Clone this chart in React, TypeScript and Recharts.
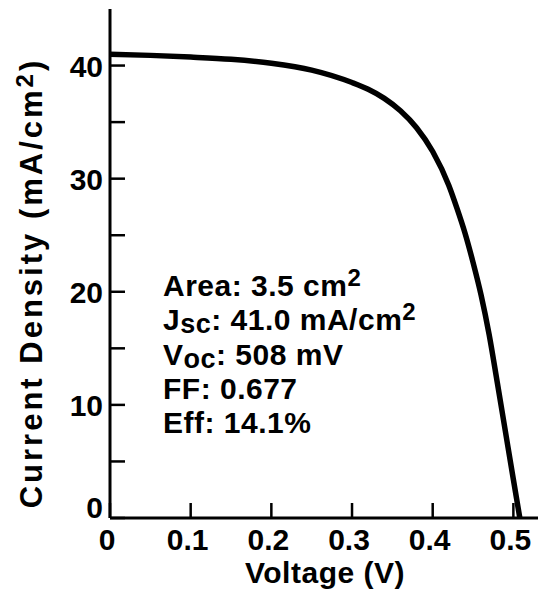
import { LineChart, Line, XAxis, YAxis } from 'recharts';

// J-V curve of the cell: voltage (V) vs current density (mA/cm2)
const voltage = [0, 0.05, 0.1, 0.15, 0.2, 0.25, 0.3, 0.32, 0.34, 0.36, 0.38, 0.4, 0.42, 0.43, 0.44, 0.45, 0.46, 0.47, 0.48, 0.49, 0.5, 0.508];
const currentDensity = [41.0, 40.9, 40.75, 40.55, 40.2, 39.6, 38.5, 37.9, 37.1, 36.0, 34.5, 32.4, 29.4, 27.4, 25.2, 22.6, 19.7, 16.2, 12.0, 7.7, 3.4, 0];

const xTicks = [0, 0.1, 0.2, 0.3, 0.4, 0.5];
const yTicks = [0, 5, 10, 15, 20, 25, 30, 35, 40];

const data = voltage.map((v, i) => ({ v, j: currentDensity[i] }));

const FONT = '"Liberation Sans", Arial, Helvetica, sans-serif';
const TICK_LEN = 15;

const BottomTick = ({ x, y, payload }: any) => (
  <g>
    <line x1={x} y1={y} x2={x} y2={y - TICK_LEN} stroke="#000" strokeWidth={2.5} />
    <text x={x - 3} y={y + 32} textAnchor="middle" fontFamily={FONT} fontWeight="bold" fontSize={30} fill="#000">
      {payload.value === 0 ? '0' : payload.value.toFixed(1)}
    </text>
  </g>
);

const TopTick = ({ x, y }: any) => (
  <line x1={x} y1={y} x2={x} y2={y + TICK_LEN} stroke="#000" strokeWidth={2.5} />
);

const LeftTick = ({ x, y, payload }: any) => (
  <g>
    <line x1={x} y1={y} x2={x + TICK_LEN} y2={y} stroke="#000" strokeWidth={2.5} />
    {payload.value % 10 === 0 && (
      <text x={x - 7} y={payload.value === 0 ? y : y + 11} textAnchor="end" fontFamily={FONT} fontWeight="bold" fontSize={30} fill="#000">
        {payload.value}
      </text>
    )}
  </g>
);

const RightTick = ({ x, y }: any) => (
  <line x1={x} y1={y} x2={x - TICK_LEN} y2={y} stroke="#000" strokeWidth={2.5} />
);

const stats = [
  { label: 'Area: 3.5 cm', sup: '2' },
  { label: 'J', sub: 'sc', rest: ': 41.0 mA/cm', sup: '2' },
  { label: 'V', sub: 'oc', rest: ': 508 mV' },
  { label: 'FF: 0.677' },
  { label: 'Eff: 14.1%' },
];

export default function App() {
  return (
    <div style={{ position: 'absolute', left: 0, top: 0, width: 538, height: 596, overflow: 'hidden', background: '#fff' }}>
      <LineChart width={545} height={596} data={data} margin={{ top: 9, right: 5, bottom: 0, left: 0 }}>
        <XAxis
          dataKey="v"
          type="number"
          domain={[0, 0.533]}
          ticks={xTicks}
          height={78}
          tickSize={0}
          tickMargin={0}
          tick={<BottomTick />}
          axisLine={{ stroke: '#000', strokeWidth: 3 }}
          tickLine={false}
        />
        <XAxis
          xAxisId="top"
          orientation="top"
          dataKey="v"
          type="number"
          domain={[0, 0.533]}
          ticks={xTicks}
          height={0}
          tickSize={0}
          tickMargin={0}
          tick={<TopTick />}
          axisLine={{ stroke: '#000', strokeWidth: 3 }}
          tickLine={false}
        />
        <YAxis
          type="number"
          domain={[0, 45]}
          ticks={yTicks}
          width={110}
          tickSize={0}
          tickMargin={0}
          tick={<LeftTick />}
          axisLine={{ stroke: '#000', strokeWidth: 3 }}
          tickLine={false}
        />
        <YAxis
          yAxisId="right"
          orientation="right"
          type="number"
          domain={[0, 45]}
          ticks={yTicks}
          width={0}
          tickSize={0}
          tickMargin={0}
          tick={<RightTick />}
          axisLine={{ stroke: '#000', strokeWidth: 3 }}
          tickLine={false}
        />
        <Line
          type="monotone"
          dataKey="j"
          stroke="#000"
          strokeWidth={5.5}
          dot={false}
          isAnimationActive={false}
        />

        <text x={325} y={583} textAnchor="middle" fontFamily={FONT} fontWeight="bold" fontSize={30} letterSpacing={0.5} fill="#000">
          Voltage (V)
        </text>
        <text
          x={42}
          y={283}
          transform="rotate(-90 42 283)"
          textAnchor="middle"
          fontFamily={FONT}
          fontWeight="bold"
          fontSize={31}
          letterSpacing={3}
          fill="#000"
        >
          Current Density (mA/cm<tspan fontSize={24} dy={-9}>2</tspan><tspan dy={9}>)</tspan>
        </text>

        {stats.map((s, i) => (
          <text key={i} x={163} y={296 + i * 34.3} fontFamily={FONT} fontWeight="bold" fontSize={30} letterSpacing={0.5} fill="#000">
            {s.label}
            {s.sub && <tspan fontSize={27} dy={3}>{s.sub}</tspan>}
            {s.rest && <tspan dy={s.sub ? -3 : 0}>{s.rest}</tspan>}
            {s.sup && <tspan fontSize={24} dy={-10}>{s.sup}</tspan>}
          </text>
        ))}
      </LineChart>
    </div>
  );
}
